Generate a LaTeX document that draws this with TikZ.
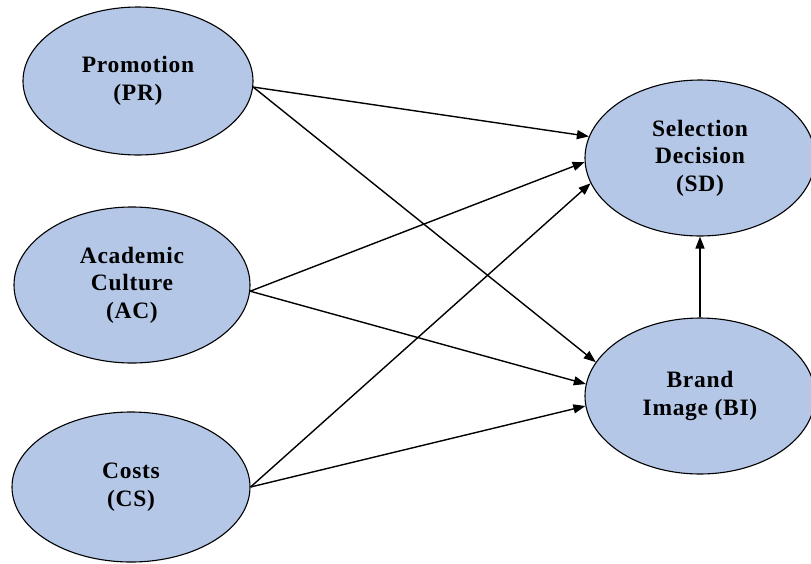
\documentclass[tikz,border=0pt]{standalone}
\usepackage{fontspec}
\setmainfont{Liberation Serif}[LetterSpace=3]
\usetikzlibrary{shapes.geometric,arrows.meta}
\definecolor{ellfill}{RGB}{180,199,231}
\begin{document}
\begin{tikzpicture}[x=1pt,y=-1pt,
  var/.style={ellipse,draw=black,line width=1.1pt,fill=ellfill,inner sep=0pt,
    align=center,font=\fontsize{23.5}{27.5}\selectfont\bfseries},
  arr/.style={line width=1.4pt,-{Triangle[length=12pt,width=9pt]}}]
\useasboundingbox (0,0) rectangle (811,563);
\node[var,minimum width=230pt,minimum height=148pt] (PR) at (138,81) {Promotion\\(PR)};
\node[var,minimum width=236pt,minimum height=156pt] (AC) at (132,285) {Academic\\Culture\\(AC)};
\node[var,minimum width=238pt,minimum height=150pt] (CS) at (131,487) {Costs\\(CS)};
\node[var,minimum width=230pt,minimum height=156pt] (SD) at (700,158) {Selection\\Decision\\(SD)};
\node[var,minimum width=230pt,minimum height=156pt] (BI) at (700,396) {Brand\\Image (BI)};
\draw[arr] (PR.-3) -- (SD.169.5);
\draw[arr] (PR.-3) -- (BI.162.4);
\draw[arr] (AC.-3) -- (SD.182);
\draw[arr] (AC.-3) -- (BI.174.4);
\draw[arr] (CS.east) -- (SD.193.5);
\draw[arr] (CS.east) -- (BI.185);
\draw[arr] (BI.north) -- (SD.south);
\end{tikzpicture}
\end{document}
